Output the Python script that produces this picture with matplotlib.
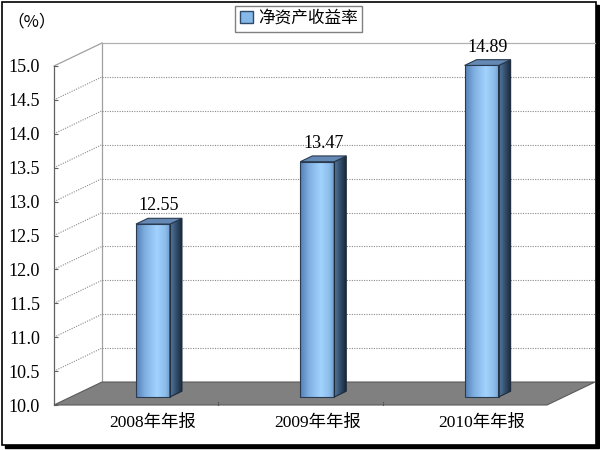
import numpy as np
import matplotlib
matplotlib.use('Agg')
import matplotlib.pyplot as plt
from matplotlib.patches import Polygon, Patch, Rectangle
from matplotlib.colors import to_rgb

plt.rcParams['font.family'] = ['Liberation Serif', 'Noto Sans CJK SC']

# 数据
categories = ['2008年年报', '2009年年报', '2010年年报']
values = [12.55, 13.47, 14.89]
series_name = '净资产收益率'
y_ticks = [10.0, 10.5, 11.0, 11.5, 12.0, 12.5, 13.0, 13.5, 14.0, 14.5, 15.0]
unit_label = '（%）'

# 伪3D的进深（数据单位）
DX, DY = 0.292, 0.339
F0, F1 = 0.35, 0.60
W = 0.207
ymin, ymax = y_ticks[0], y_ticks[-1]
n = len(categories)


def gradient(stops, num=64):
    pos = np.array([s[0] for s in stops])
    cols = np.array([to_rgb(s[1]) for s in stops])
    t = np.linspace(0, 1, num)
    arr = np.stack([np.interp(t, pos, cols[:, k]) for k in range(3)], axis=-1)
    return arr[np.newaxis, :, :]


front_grad = gradient([(0, '#5580B5'), (0.25, '#7FAEE0'), (0.6, '#A2D3FF'), (0.85, '#8CBCEA'), (1, '#6A98C8')])
side_grad = gradient([(0, '#56779C'), (0.5, '#34506F'), (1, '#1A283A')])

fig = plt.figure(figsize=(6, 4.5), dpi=100)
fig.patches.append(Rectangle((5 / 600, 2 / 450), 594 / 600, 443 / 450, transform=fig.transFigure,
                             facecolor='black', edgecolor='black', zorder=-2))
fig.patches.append(Rectangle((2 / 600, 5 / 450), 594 / 600, 443 / 450, transform=fig.transFigure,
                             facecolor='white', edgecolor='black', lw=1.2, zorder=-1))

ax = fig.add_axes([54 / 600, 45 / 450, 493 / 600, 339 / 450])
ax.patch.set_visible(False)

grid_kw = dict(color='#8a8a8a', lw=0.8, linestyle=(0, (1, 1.2)), clip_on=False, zorder=1)
# 背墙和左墙
ax.plot([DX, DX], [ymin + DY, ymax + DY], color='#a0a0a0', lw=0.9, clip_on=False, zorder=1)
ax.plot([DX, n + DX], [ymax + DY, ymax + DY], color='#b0b0b0', lw=0.9, clip_on=False, zorder=1)
ax.plot([0, DX], [ymax, ymax + DY], color='#a0a0a0', lw=0.9, clip_on=False, zorder=1)
for t in y_ticks[1:-1]:
    ax.plot([DX, n + DX], [t + DY, t + DY], **grid_kw)
    ax.plot([0, DX], [t, t + DY], **grid_kw)

# 底面
floor = Polygon([(0, ymin), (n, ymin), (n + DX, ymin + DY), (DX, ymin + DY)], closed=True,
                facecolor='#808080', edgecolor='#5a5a5a', lw=0.8, clip_on=False, zorder=2)
ax.add_patch(floor)
for k in range(1, n):
    ax.plot([k, k], [ymin, ymin + 0.05], color='#5a5a5a', lw=0.8, clip_on=False, zorder=2)

ddx, ddy = (F1 - F0) * DX, (F1 - F0) * DY
for i, v in enumerate(values):
    cx = i + 0.5 + F0 * DX
    x0, x1 = cx - W / 2, cx + W / 2
    yb, yt = ymin + F0 * DY, v + F0 * DY
    im = ax.imshow(front_grad, extent=(x0, x1, yb, yt), aspect='auto', interpolation='bilinear', zorder=3)
    im.set_clip_path(None)
    im.set_clip_on(False)
    ax.add_patch(Rectangle((x0, yb), W, yt - yb, fill=False, edgecolor='#2a3b50', lw=0.8,
                           clip_on=False, zorder=4))
    side = Polygon([(x1, yb), (x1 + ddx, yb + ddy), (x1 + ddx, yt + ddy), (x1, yt)], closed=True,
                   facecolor='none', edgecolor='#1c2a3a', lw=0.8, clip_on=False, zorder=4)
    ax.add_patch(side)
    im2 = ax.imshow(side_grad, extent=(x1, x1 + ddx, yb, yt + ddy), aspect='auto',
                    interpolation='bilinear', zorder=3)
    im2.set_clip_path(side)
    im2.set_clip_box(fig.bbox)
    top = Polygon([(x0, yt), (x1, yt), (x1 + ddx, yt + ddy), (x0 + ddx, yt + ddy)], closed=True,
                  facecolor='#6389B4', edgecolor='#2a3b50', lw=0.8, clip_on=False, zorder=4)
    ax.add_patch(top)
    ax.annotate(f'{v:.2f}', xy=(cx + ddx / 2, yt + ddy), xytext=(0, 3), textcoords='offset points',
                ha='center', va='bottom', fontsize=13, zorder=5, annotation_clip=False)
    ax.annotate(categories[i], xy=(cx, ymin), xytext=(0, -7), textcoords='offset points',
                ha='center', va='top', fontsize=12.5, annotation_clip=False)

ax.set_xlim(0, n)
ax.set_ylim(ymin, ymax)
ax.set_xticks([])
ax.set_yticks(y_ticks)
ax.set_yticklabels([f'{t:.1f}' for t in y_ticks])
ax.tick_params(axis='y', direction='in', length=3, pad=10, color='#606060', labelsize=13)
for s in ['top', 'right', 'bottom']:
    ax.spines[s].set_visible(False)
ax.spines['left'].set_color('#606060')
ax.spines['left'].set_linewidth(0.9)

fig.text(0.012, 0.951, unit_label, fontsize=12, va='center', ha='left', family=['Noto Sans CJK SC'])
fig.legend(handles=[Patch(facecolor='#86B8E8', edgecolor='#2F4A6A')], labels=[series_name],
           loc='upper center', bbox_to_anchor=(0.498, 0.987), fancybox=False, edgecolor='#808080',
           framealpha=1, fontsize=12, handlelength=0.75, handleheight=0.75, handletextpad=0.3,
           borderpad=0.3, borderaxespad=0)

fig.savefig('out.png', dpi=100)
